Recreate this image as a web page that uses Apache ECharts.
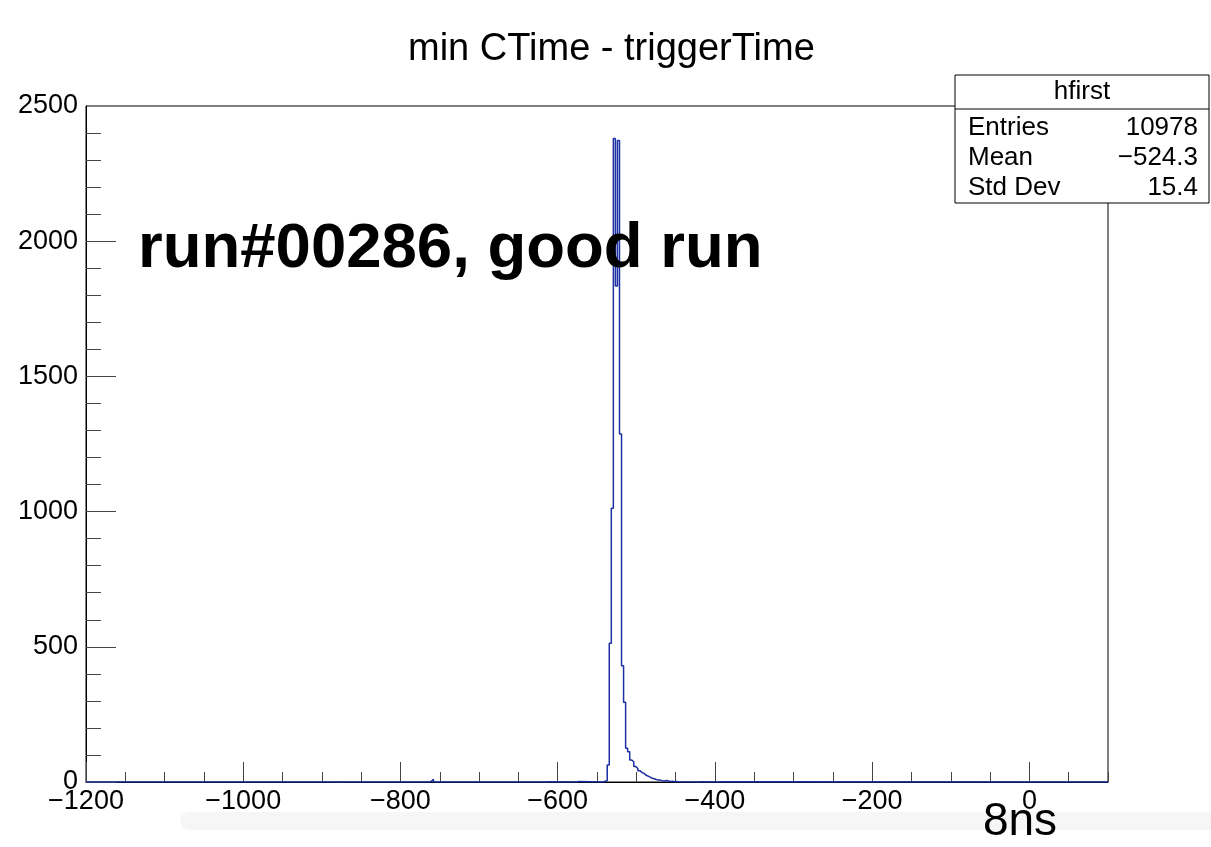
<!DOCTYPE html>
<html>
<head>
<meta charset="utf-8">
<script src="https://cdn.jsdelivr.net/npm/echarts@6/dist/echarts.min.js"></script>
<style>
  html, body { margin: 0; padding: 0; background: #fff; }
  #chart { width: 1211px; height: 847px; }
</style>
</head>
<body>
<div id="chart"></div>
<script>
// histogram binning (ns)
const histMin = -1200;
const histMax = 100;
const binWidth = 2.6;

// counts around the peak, first one is bin #253
const peakFirstBin = 253;
const peakCounts = [3, 5, 63, 513, 1012, 2380, 1834, 2372, 1287, 430, 295, 125, 112, 81, 75,
  57, 50, 42, 35, 32, 25, 22, 18, 14, 12, 9, 7, 7, 5, 4, 6, 4, 2, 3, 1, 2, 1];

// a few lonely bins away from the peak
const strayBins = [168, 169, 225, 240, 300, 310];
const strayCounts = [3, 10, 1, 2, 1, 1];

const xTicks = [-1200, -1000, -800, -600, -400, -200, 0];
const yTicks = [0, 500, 1000, 1500, 2000, 2500];

const statsTitle = 'hfirst';
const statsNames = ['Entries', 'Mean', 'Std Dev'];
const statsValues = ['10978', '\u2212524.3', '15.4'];

const FONT = 'Liberation Sans, Arial, Helvetica, sans-serif';

// collect the nonzero bins and turn them into a step outline
const bins = [];
strayBins.forEach((k, i) => bins.push([k, strayCounts[i]]));
peakCounts.forEach((c, i) => bins.push([peakFirstBin + i, c]));
bins.sort((a, b) => a[0] - b[0]);

const steps = [[histMin, 0]];
let lastK = -1;
bins.forEach(b => {
  const k = b[0];
  if (lastK >= 0 && k !== lastK + 1) steps.push([histMin + (lastK + 1) * binWidth, 0]);
  steps.push([histMin + k * binWidth, b[1]]);
  lastK = k;
});
steps.push([histMin + (lastK + 1) * binWidth, 0]);
steps.push([histMax, 0]);

const fmt = v => (v < 0 ? '\u2212' + Math.abs(v) : String(v));

const chart = echarts.init(document.getElementById('chart'));

const statsX = 955, statsY = 75, statsW = 254, statsH = 128;

const statsChildren = [
  { type: 'rect', shape: { x: 0, y: 0, width: statsW, height: statsH },
    style: { fill: '#fff', stroke: '#000', lineWidth: 1 } },
  { type: 'line', shape: { x1: 0, y1: 34, x2: statsW, y2: 34 },
    style: { stroke: '#000', lineWidth: 1 } },
  { type: 'text', x: statsW / 2, y: 17,
    style: { text: statsTitle, font: '26px ' + FONT, fill: '#000', align: 'center', verticalAlign: 'middle' } }
];
statsNames.forEach((name, i) => {
  statsChildren.push({ type: 'text', x: 13, y: 53 + i * 30,
    style: { text: name, font: '26px ' + FONT, fill: '#000', align: 'left', verticalAlign: 'middle' } });
  statsChildren.push({ type: 'text', x: statsW - 11, y: 53 + i * 30,
    style: { text: statsValues[i], font: '26px ' + FONT, fill: '#000', align: 'right', verticalAlign: 'middle' } });
});

chart.setOption({
  animation: false,
  backgroundColor: '#fff',
  title: {
    text: 'min CTime - triggerTime',
    left: 403,
    top: 26,
    textStyle: { fontFamily: FONT, fontSize: 38, fontWeight: 'normal', color: '#000' }
  },
  grid: {
    left: 86, top: 106, width: 1022, height: 676,
    show: true, borderColor: '#000', borderWidth: 1, backgroundColor: 'transparent'
  },
  xAxis: [
    {
      type: 'value', min: histMin, max: histMax, interval: 200,
      position: 'bottom',
      axisLine: { show: true, onZero: false, lineStyle: { color: '#000', width: 1 } },
      axisTick: { show: true, inside: true, length: 20, lineStyle: { color: '#444' },
        customValues: xTicks },
      axisLabel: {
        show: true, margin: 6, fontFamily: FONT, fontSize: 27, color: '#000',
        customValues: xTicks, formatter: fmt
      },
      splitLine: { show: false }
    },
    {
      type: 'value', min: histMin, max: histMax, interval: 50,
      position: 'bottom',
      axisLine: { show: false, onZero: false },
      axisTick: { show: true, inside: true, length: 10, lineStyle: { color: '#444' } },
      axisLabel: { show: false },
      splitLine: { show: false }
    }
  ],
  yAxis: {
    type: 'value', min: 0, max: 2500, interval: 500,
    position: 'left',
    axisLine: { show: true, onZero: false, lineStyle: { color: '#000', width: 1 } },
    axisTick: { show: true, inside: true, length: 30, lineStyle: { color: '#444' },
      customValues: [0, 500, 1000, 1500, 2000] },
    minorTick: { show: true, splitNumber: 5, length: 15, lineStyle: { color: '#444' } },
    axisLabel: {
      margin: 8, fontFamily: FONT, fontSize: 27, color: '#000',
      customValues: yTicks, formatter: fmt
    },
    splitLine: { show: false }
  },
  series: [{
    type: 'line',
    xAxisIndex: 0,
    step: 'end',
    symbol: 'none',
    data: steps,
    lineStyle: { color: '#1c2fa3', width: 1.5 },
    z: 3
  }],
  graphic: [
    { type: 'rect', z: -1, shape: { x: 180, y: 812, width: 1031, height: 18, r: [9, 0, 0, 9] },
      style: { fill: '#f6f6f6' } },
    { type: 'text', z: 10, x: 138, y: 249,
      style: { text: 'run#00286, good run', font: 'bold 63.5px ' + FONT, fill: '#000',
        align: 'left', verticalAlign: 'middle' } },
    { type: 'text', z: 10, x: 1020, y: 822,
      style: { text: '8ns', font: '46px ' + FONT, fill: '#000', align: 'center', verticalAlign: 'middle' } },
    { type: 'group', z: 20, x: statsX, y: statsY, children: statsChildren }
  ]
});
</script>
</body>
</html>
